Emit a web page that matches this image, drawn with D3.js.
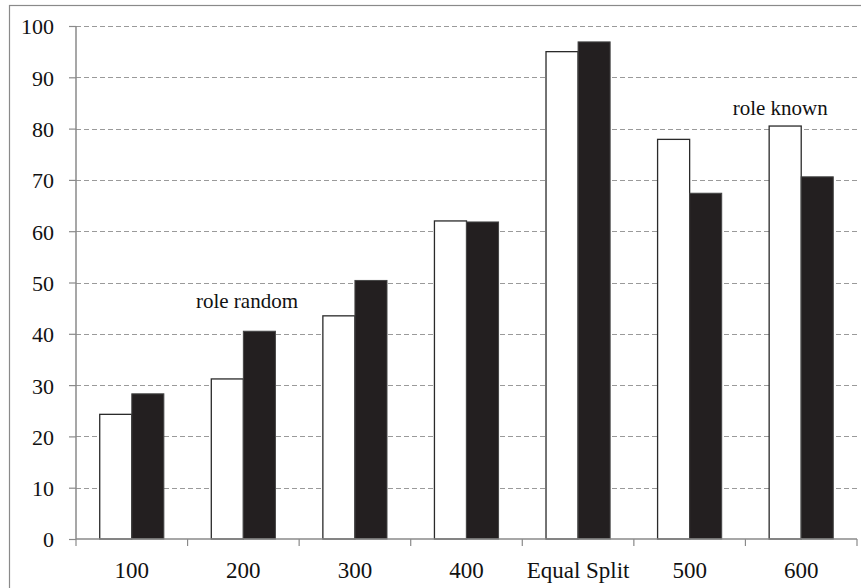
<!DOCTYPE html>
<html><head><meta charset="utf-8">
<script src="https://cdn.jsdelivr.net/npm/d3@7"></script>
</head><body style="margin:0;background:#fff">
<svg id="c" width="861" height="588" style="display:block"></svg>
<script>
const categories = ["100","200","300","400","Equal Split","500","600"];
const seriesWhite = [24.3, 31.2, 43.5, 62.0, 95.0, 77.9, 80.5];
const seriesBlack = [28.3, 40.5, 50.4, 61.8, 96.9, 67.4, 70.6];
const yTicks = [0,10,20,30,40,50,60,70,80,90,100];
const annotationTexts = ["role random", "role known"];
const annotationCats = ["200", "600"];

const FONT = '"Liberation Serif"';
const svg = d3.select("#c");
const L = 76, R = 857, T = 26, B = 539;
svg.append("rect").attr("x",9.5).attr("y",5.5).attr("width",860).attr("height",600)
  .attr("fill","none").attr("stroke","#8a8a8a").attr("stroke-width",1.2);

const y = d3.scaleLinear().domain([0,100]).range([B,T]);
const x0 = d3.scaleBand().domain(categories).range([L,R]).padding(0);
const x1 = d3.scaleBand().domain(["w","b"]).range([0,x0.bandwidth()]).paddingInner(0).paddingOuter(0.74);

// gridlines
svg.append("g").selectAll("line").data(yTicks.filter(d=>d>0)).join("line")
  .attr("x1",L).attr("x2",R).attr("y1",d=>Math.round(y(d))+0.5).attr("y2",d=>Math.round(y(d))+0.5)
  .attr("stroke","#9a9a9a").attr("stroke-width",1).attr("stroke-dasharray","5,3");

// bars
const g = svg.append("g");
categories.forEach((c,i)=>{
  g.append("rect").attr("x",x0(c)+x1("w")).attr("y",y(seriesWhite[i]))
    .attr("width",x1.bandwidth()).attr("height",B-y(seriesWhite[i]))
    .attr("fill","#fff").attr("stroke","#2a2a2a").attr("stroke-width",1.3);
  g.append("rect").attr("x",x0(c)+x1("b")).attr("y",y(seriesBlack[i]))
    .attr("width",x1.bandwidth()).attr("height",B-y(seriesBlack[i]))
    .attr("fill","#231f20").attr("stroke","#444").attr("stroke-width",1);
});

// y axis
const ya = svg.append("g").attr("transform",`translate(${L},0)`)
  .call(d3.axisLeft(y).tickValues(yTicks).tickSize(7).tickPadding(15).tickFormat(d3.format("d")));
ya.attr("font-family",null).attr("font-size",null);
ya.select(".domain").attr("stroke","#8a8a8a").attr("stroke-width",1.5).attr("d",`M0,${T}V${B}`);
ya.selectAll(".tick line").attr("stroke","#8a8a8a").attr("stroke-width",1.2);
ya.selectAll("text").style("font-size","22px").style("font-family",FONT).attr("fill","#111").attr("dy","0.36em");

// x axis
const xa = svg.append("g").attr("transform",`translate(0,${B})`)
  .call(d3.axisBottom(x0).tickSize(0).tickPadding(23));
xa.attr("font-family",null).attr("font-size",null);
xa.select(".domain").attr("stroke","#8a8a8a").attr("stroke-width",1.5).attr("d",`M${L},0H${R}`);
xa.selectAll("text").style("font-size","23px").style("font-family",FONT).attr("fill","#111");
const bounds = categories.map(c=>x0(c)).concat([x0(categories[categories.length-1])+x0.bandwidth()]);
xa.append("g").selectAll("line").data(bounds).join("line")
  .attr("x1",d=>d).attr("x2",d=>d).attr("y1",0).attr("y2",7)
  .attr("stroke","#8a8a8a").attr("stroke-width",1.2);

// annotations (anchor levels in axis units and horizontal nudges)
const annLevel = [45.1, 82.7], annDx = [3.6, -21];
svg.append("g").selectAll("text").data(annotationTexts).join("text")
  .attr("x",(d,i)=>x0(annotationCats[i])+x0.bandwidth()/2+annDx[i]).attr("y",(d,i)=>y(annLevel[i]))
  .attr("text-anchor","middle").style("font-size","21px").style("font-family",FONT)
  .attr("fill","#111").text(d=>d);
</script>
</body></html>
